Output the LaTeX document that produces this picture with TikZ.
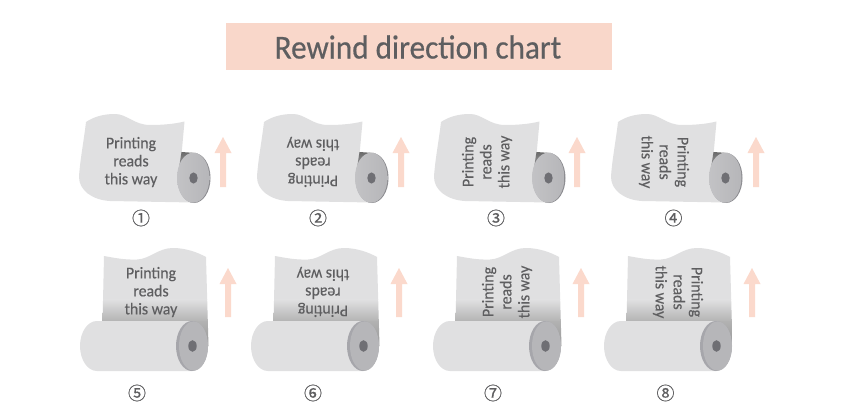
\documentclass[tikz,border=0pt]{standalone}
\usepackage{fontspec}
\setmainfont[FakeBold=0.3,FakeStretch=0.96]{Carlito}
\newfontfamily\titlefont[FakeBold=0.5,FakeStretch=0.93]{Carlito}
\newfontfamily\cjkfont[FakeBold=0.6]{Noto Sans CJK KR}
\definecolor{banner}{HTML}{F9D7CA}
\definecolor{sheet}{HTML}{E0E0E1}
\definecolor{facec}{HTML}{B6B6B9}
\definecolor{faced}{HTML}{A6A6AB}
\definecolor{holec}{HTML}{6F6F74}
\definecolor{txt}{HTML}{5E5E60}
\definecolor{arrowc}{HTML}{FBD9CC}
\tikzset{
  x=1pt,y=-1pt,
  printlabel/.style={text=txt,align=center,font=\fontsize{16.5}{18}\selectfont,inner sep=0pt},
  numlabel/.style={text=txt,font=\fontsize{18}{18}\cjkfont,inner sep=0pt},
  titlelabel/.style={text=txt,font=\titlefont\fontsize{33.5}{36}\selectfont,inner sep=0pt},
  uparrow/.style={fill=arrowc,draw=none},
}
% arrow: #1 x, #2 top y, #3 bottom y
\newcommand{\uparrowshape}[3]{%
  \fill[uparrow] (#1-3,#3) -- (#1-3,#2+16) -- (#1-8.5,#2+16) -- (#1,#2) -- (#1+8.5,#2+16) -- (#1+3,#2+16) -- (#1+3,#3) -- cycle;}
% small upright roll: #1 dx
\newcommand{\uproll}[1]{%
  \begin{scope}[xshift=#1pt]
    \fill[sheet] (86,122) .. controls (95,116) and (105,114) .. (115,114)
      .. controls (127,114) and (134,125) .. (150,125)
      .. controls (163,125) and (174,124) .. (184.5,121.5)
      -- (181,160) -- (193,202.5) -- (110,201)
      .. controls (92,200) and (79,190) .. (79,177) .. controls (80,160) and (84,140) .. (86,122) -- cycle;
    \shade[top color=black!58,bottom color=facec]
      (181.5,152) -- (196,153) -- (185,176) -- (178,174) -- cycle;
    \fill[faced!85!black] (194,178) ellipse [x radius=16.5,y radius=25];
    \shade[left color=facec!70!sheet,right color=facec] (193.2,177.7) ellipse [x radius=16.2,y radius=25];
    \fill[holec] (193.5,178) ellipse [x radius=4.2,y radius=5.6];
  \end{scope}}
% long roll: #1 dx
\newcommand{\lowroll}[1]{%
  \begin{scope}[xshift=#1pt]
    \begin{scope}
      \path[clip] (104,256) .. controls (115,258) and (125,260) .. (137,259.5)
        .. controls (150,259) and (158,248) .. (173,248)
        .. controls (185,248) and (197,252) .. (206,257)
        -- (208.5,346) -- (102,346) -- cycle;
      \fill[sheet] (95,240) rectangle (215,300);
      \shade[top color=sheet,bottom color=black!30] (95,299.5) rectangle (215,321.5);
      \shade[top color=black!30,bottom color=black!42] (95,321) rectangle (215,350);
    \end{scope}
    \fill[sheet] (97,321) -- (192,321) -- (192,371) -- (97,371)
      .. controls (87,371) and (80,359) .. (80,346) .. controls (80,333) and (87,321) .. (97,321) -- cycle;
    \fill[faced] (192,346) ellipse [x radius=16,y radius=25];
    \fill[facec] (193.5,346) ellipse [x radius=14.5,y radius=24.6];
    \fill[holec] (192.5,346) ellipse [x radius=4.2,y radius=5.8];
  \end{scope}}
\begin{document}
\begin{tikzpicture}
\useasboundingbox (0,0) rectangle (860,420);
\fill[white] (0,0) rectangle (860,420);
\fill[banner] (226,23) rectangle (612,70);
\node[titlelabel] (title) at (418,47) {Rewind direction chart};

% top row
\uproll{0}
\uproll{178}
\uproll{355}
\uproll{532}
\node[printlabel] (t1) at (131,162) {Printing\\reads\\this way};
\node[printlabel,rotate=180] (t2) at (313,162) {Printing\\reads\\this way};
\node[printlabel,rotate=90] (t3) at (487,162) {Printing\\reads\\this way};
\node[printlabel,rotate=-90] (t4) at (664,162) {Printing\\reads\\this way};
\uparrowshape{223}{137}{187}
\uparrowshape{401}{137}{187}
\uparrowshape{577}{137}{187}
\uparrowshape{756}{137}{187}
\node[numlabel] (n1) at (141,218) {①};
\node[numlabel] (n2) at (318,218) {②};
\node[numlabel] (n3) at (496,218) {③};
\node[numlabel] (n4) at (673.5,218) {④};

% bottom row
\lowroll{0}
\lowroll{171}
\lowroll{353}
\lowroll{524}
\node[printlabel] (t5) at (151,292) {Printing\\reads\\this way};
\node[printlabel,rotate=180] (t6) at (323,292) {Printing\\reads\\this way};
\node[printlabel,rotate=90] (t7) at (507,292) {Printing\\reads\\this way};
\node[printlabel,rotate=-90] (t8) at (678,292) {Printing\\reads\\this way};
\uparrowshape{228}{268}{317}
\uparrowshape{399}{268}{317}
\uparrowshape{581}{268}{317}
\uparrowshape{752}{268}{317}
\node[numlabel] (n5) at (137,393) {⑤};
\node[numlabel] (n6) at (313,393) {⑥};
\node[numlabel] (n7) at (493,393) {⑦};
\node[numlabel] (n8) at (665.5,393) {⑧};
\end{tikzpicture}
\end{document}
